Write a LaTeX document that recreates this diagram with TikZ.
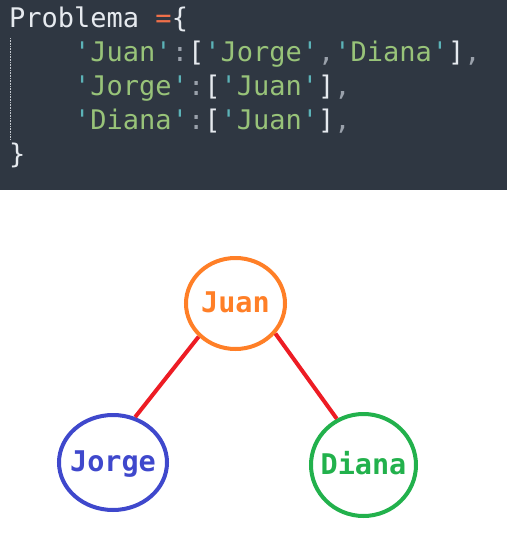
\documentclass[tikz,border=0pt]{standalone}
\usepackage{fontspec}
\usepackage{xcolor}
\usepackage{tikz}
\usetikzlibrary{shapes.geometric,positioning}

\setmonofont{DejaVu Sans Mono}

\definecolor{codebg}{HTML}{2F3742}
\definecolor{codefg}{HTML}{E6EAEF}
\definecolor{codestr}{HTML}{98C379}
\definecolor{codequote}{HTML}{5CB3B8}
\definecolor{codepunct}{HTML}{9AA1AB}
\definecolor{codeop}{HTML}{F0704A}
\definecolor{juancol}{HTML}{FF7F27}
\definecolor{jorgecol}{HTML}{3F48CC}
\definecolor{dianacol}{HTML}{22B14C}
\definecolor{edgecol}{HTML}{ED1C24}

\newcommand{\qs}[1]{\textcolor{codequote}{'}\textcolor{codestr}{#1}\textcolor{codequote}{'}}
\newcommand{\cp}[1]{\textcolor{codepunct}{#1}}
\newcommand{\pname}[1]{\raisebox{-9pt}[0pt][0pt]{\makebox[0pt]{#1}}}

\begin{document}
\begin{tikzpicture}[x=1pt,y=-1pt,
    codeline/.style={anchor=base west,inner sep=0pt,text=codefg,
      font=\ttfamily\fontsize{27}{34}\selectfont},
    person/.style={ellipse,draw=#1,line width=4pt,text=#1,inner sep=0pt,
      font=\ttfamily\bfseries\fontsize{28.5}{30}\selectfont},
    edge/.style={draw=edgecol,line width=4pt}]
  \useasboundingbox (0,0) rectangle (519,544);
  % code panel
  \fill[codebg] (0,0) rectangle (507,190);
  \draw[codepunct!60,densely dotted,line width=0.6pt] (10,38) -- (10,140);
  \node[codeline] (code1) at (9,27) {Problema \textcolor{codeop}{=}\{};
  \node[codeline] (code2) at (9,61) {\ \ \ \ \qs{Juan}\cp{:}[\qs{Jorge}\cp{,}\qs{Diana}]\cp{,}};
  \node[codeline] (code3) at (9,95) {\ \ \ \ \qs{Jorge}\cp{:}[\qs{Juan}]\cp{,}};
  \node[codeline] (code4) at (9,129) {\ \ \ \ \qs{Diana}\cp{:}[\qs{Juan}]\cp{,}};
  \node[codeline] (code5) at (9,163) {\}};
  % graph
  \node[person=juancol,minimum width=99pt,minimum height=91pt] (juan) at (235.5,303.5) {\pname{Juan}};
  \node[person=jorgecol,minimum width=108pt,minimum height=95pt] (jorge) at (113,462.5) {\pname{Jorge}};
  \node[person=dianacol,minimum width=105pt,minimum height=102pt] (diana) at (363.5,465) {\pname{Diana}};
  \draw[edge] (juan.222) -- (jorge.64);
  \draw[edge] (juan.323) -- (diana.120);
\end{tikzpicture}
\end{document}
